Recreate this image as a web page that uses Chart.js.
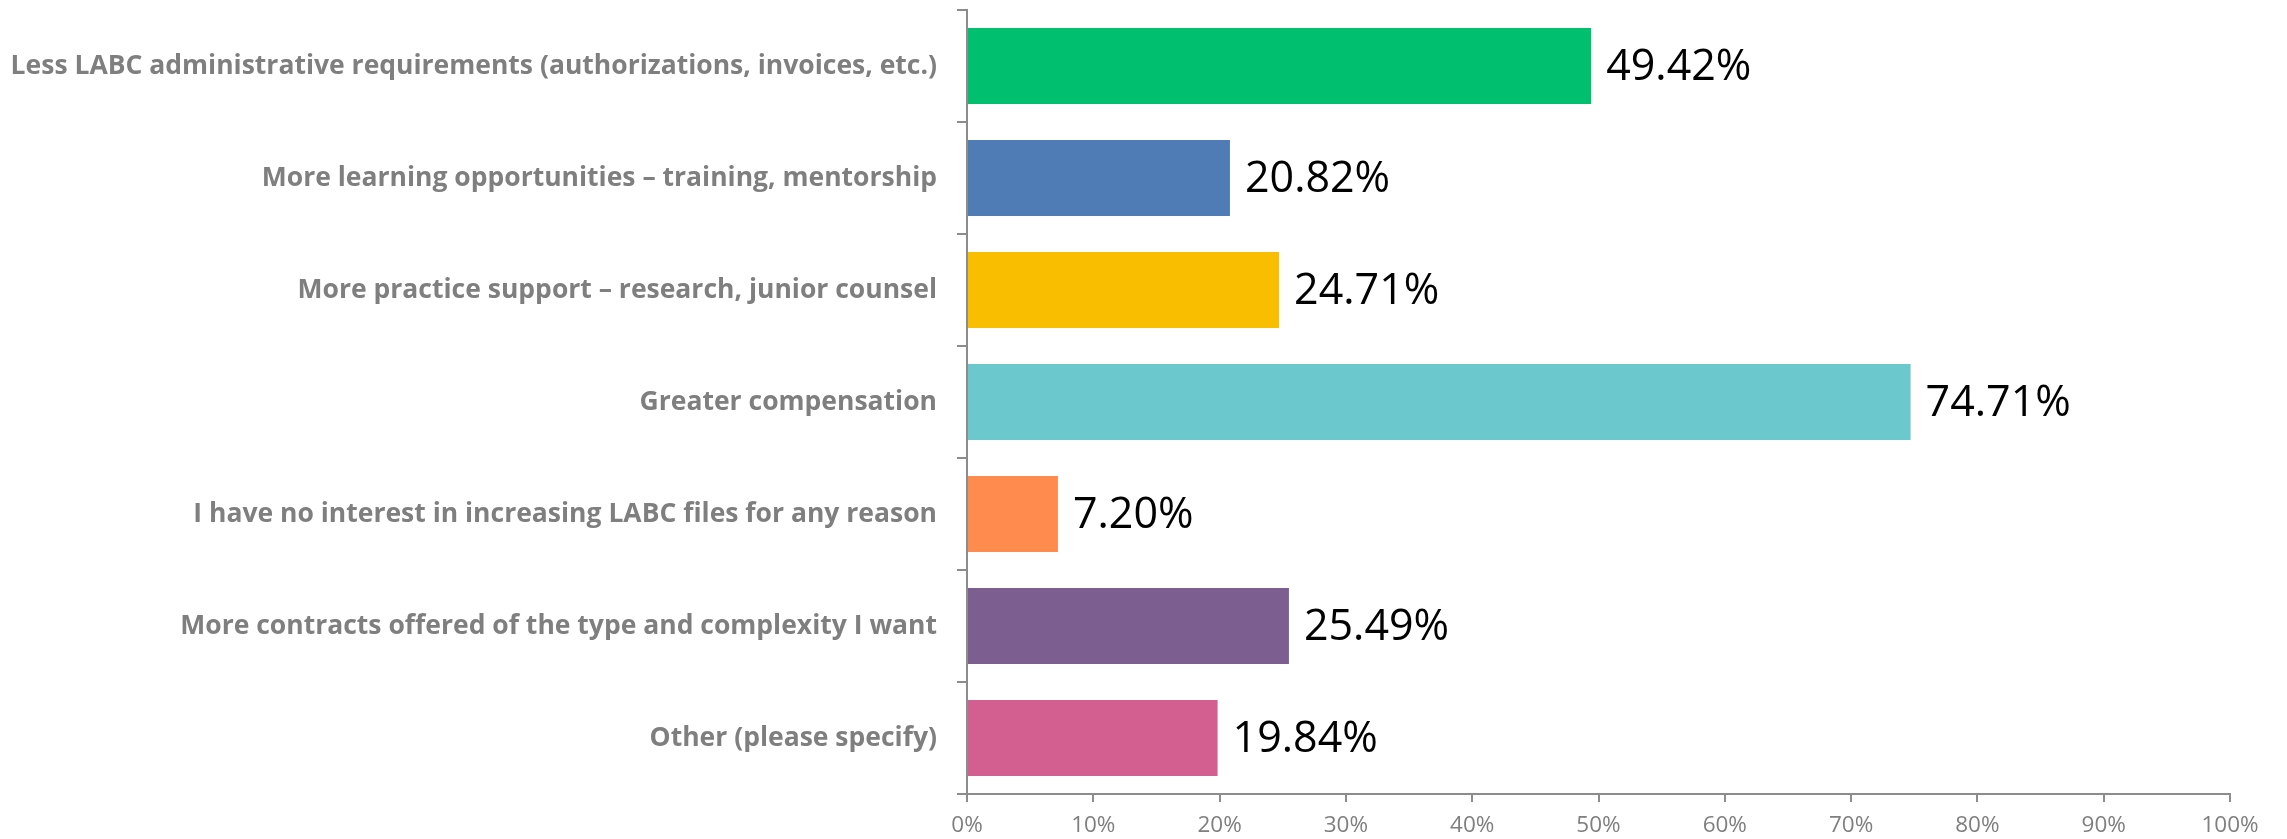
<!DOCTYPE html>
<html>
<head>
<meta charset="utf-8">
<script src="https://cdn.jsdelivr.net/npm/chart.js@4.4.0/dist/chart.umd.min.js"></script>
<style>
  html, body { margin: 0; padding: 0; background: #fff; }
  #wrap { width: 2287px; height: 839px; }
</style>
</head>
<body>
<div id="wrap"><canvas id="bar-chart"></canvas></div>
<script>
// dati
var categorie = [
    'Less LABC administrative requirements (authorizations, invoices, etc.)',
    'More learning opportunities \u2013 training, mentorship',
    'More practice support \u2013 research, junior counsel',
    'Greater compensation',
    'I have no interest in increasing LABC files for any reason',
    'More contracts offered of the type and complexity I want',
    'Other (please specify)'
];
var valori = [49.42, 20.82, 24.71, 74.71, 7.20, 25.49, 19.84];
var colori = ['#00BF6F', '#507CB6', '#F9BE00', '#6BC8CD', '#FF8B4F', '#7D5E90', '#D25F90'];
var tickX = [0, 10, 20, 30, 40, 50, 60, 70, 80, 90, 100];

var grigio = '#8C8C8C';

// etichette valore a destra delle barre
var etichette = {
    id: 'etichette',
    afterDatasetsDraw: function (chart) {
        var ctx = chart.ctx;
        var meta = chart.getDatasetMeta(0);
        ctx.save();
        ctx.font = '43px "Open Sans"';
        ctx.fillStyle = '#000';
        ctx.textAlign = 'left';
        ctx.textBaseline = 'middle';
        meta.data.forEach(function (bar, i) {
            ctx.fillText(valori[i].toFixed(2) + '%', bar.x + 15, bar.y + 2);
        });
        ctx.restore();
    }
};

function getBarChart() {
    var ctx = document.getElementById('bar-chart');
    var chart = new Chart(ctx, {
        type: 'bar',
        data: {
            labels: categorie,
            datasets: [{
                data: valori,
                backgroundColor: colori,
                borderWidth: 0,
                barPercentage: 0.68,
                categoryPercentage: 1
            }]
        },
        options: {
            indexAxis: 'y',
            responsive: true,
            maintainAspectRatio: false,
            animation: false,
            layout: { padding: { top: 10, right: 57, left: 0, bottom: 0 } },
            plugins: {
                legend: { display: false },
                tooltip: { enabled: false }
            },
            scales: {
                x: {
                    min: 0,
                    max: 100,
                    afterBuildTicks: function (scale) {
                        scale.ticks = tickX.map(function (v) { return { value: v }; });
                    },
                    afterFit: function (scale) { scale.height = 45; },
                    grid: {
                        display: true,
                        drawOnChartArea: false,
                        drawTicks: true,
                        tickLength: 8,
                        color: grigio,
                        lineWidth: 2
                    },
                    border: { display: true, color: grigio, width: 2 },
                    ticks: {
                        color: '#7F7F7F',
                        padding: 10,
                        font: { family: '"Open Sans"', size: 22.5 },
                        callback: function (v) { return v + '%'; }
                    }
                },
                y: {
                    afterFit: function (scale) {
                        scale.width = 967;
                        scale.paddingTop = 0;
                        scale.paddingBottom = 0;
                    },
                    grid: {
                        display: true,
                        offset: true,
                        drawOnChartArea: false,
                        drawTicks: true,
                        tickLength: 10,
                        color: grigio,
                        lineWidth: 2
                    },
                    border: { display: true, color: grigio, width: 2 },
                    ticks: {
                        color: '#7F7F7F',
                        padding: 20,
                        font: { family: '"Open Sans"', size: 26.5, weight: 'bold', lineHeight: 0.4 }
                    }
                }
            }
        },
        plugins: [etichette]
    });
    return chart;
}

getBarChart();
</script>
</body>
</html>
